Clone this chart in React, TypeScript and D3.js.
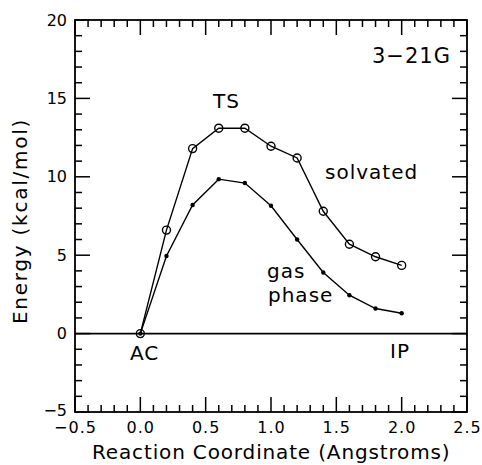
import React, { useEffect, useRef } from 'react';
import * as d3 from 'd3';

const coords = [0, 0.2, 0.4, 0.6, 0.8, 1.0, 1.2, 1.4, 1.6, 1.8, 2.0];
const solvated = [0, 6.6, 11.8, 13.1, 13.1, 11.95, 11.2, 7.8, 5.7, 4.9, 4.35];
const gasPhase = [0, 4.95, 8.2, 9.85, 9.6, 8.15, 6.0, 3.9, 2.45, 1.6, 1.3];
const xTicks = [-0.5, 0.0, 0.5, 1.0, 1.5, 2.0, 2.5];
const yTicks = [-5, 0, 5, 10, 15, 20];

const App = () => {
  const ref = useRef<SVGSVGElement>(null);

  useEffect(() => {
    const W = 482, H = 465;
    const margin = { top: 20, right: 15, bottom: 53, left: 75 };
    const width = W - margin.left - margin.right;
    const height = H - margin.top - margin.bottom;

    const root = d3.select(ref.current);
    root.selectAll('*').remove();
    const svg = root.append('g').attr('transform', `translate(${margin.left},${margin.top})`);

    const x = d3.scaleLinear().domain([-0.5, 2.5]).range([0, width]);
    const y = d3.scaleLinear().domain([-5, 20]).range([height, 0]);

    const font = 'DejaVu Sans, sans-serif';

    // frame
    svg.append('rect').attr('width', width).attr('height', height)
      .attr('fill', 'none').attr('stroke', '#000').attr('stroke-width', 1.8);

    // ticks on all four sides, pointing inward
    const xMinor = d3.range(-5, 26).map(d => d / 10);
    const yMinor = d3.range(-5, 21);
    const ticks = svg.append('g').attr('stroke', '#000').attr('stroke-width', 1.5);
    xMinor.forEach(v => {
      const major = Math.abs(v * 2 - Math.round(v * 2)) < 1e-6;
      const len = major ? 15 : 7;
      ticks.append('line').attr('x1', x(v)).attr('x2', x(v)).attr('y1', height).attr('y2', height - len);
      ticks.append('line').attr('x1', x(v)).attr('x2', x(v)).attr('y1', 0).attr('y2', len);
    });
    yMinor.forEach(v => {
      const major = v % 5 === 0;
      const len = major ? 15 : 7;
      ticks.append('line').attr('x1', 0).attr('x2', len).attr('y1', y(v)).attr('y2', y(v));
      ticks.append('line').attr('x1', width).attr('x2', width - len).attr('y1', y(v)).attr('y2', y(v));
    });

    // tick labels
    svg.selectAll('.xl').data(xTicks).join('text')
      .attr('x', d => x(d) + 0.5).attr('y', height + 20.5)
      .attr('text-anchor', 'middle').attr('font-family', font).attr('font-size', 16)
      .attr('letter-spacing', 1)
      .text(d => d3.format('.1f')(d).replace('-', '\u2212'));
    svg.selectAll('.yl').data(yTicks).join('text')
      .attr('x', -8).attr('y', d => y(d) + (d === -5 ? 3.5 : 5.5))
      .attr('text-anchor', 'end').attr('font-family', font).attr('font-size', 16)
      .text(d => String(d).replace('-', '\u2212'));

    // zero line
    svg.append('line').attr('x1', 0).attr('x2', width).attr('y1', y(0)).attr('y2', y(0))
      .attr('stroke', '#000').attr('stroke-width', 1.6);

    const line = d3.line<number>().x((d, i) => x(coords[i])).y(d => y(d));

    svg.append('path').datum(gasPhase).attr('d', line)
      .attr('fill', 'none').attr('stroke', '#000').attr('stroke-width', 1.4);
    svg.selectAll('.gp').data(gasPhase).join('circle')
      .attr('cx', (d, i) => x(coords[i])).attr('cy', d => y(d)).attr('r', 2.2).attr('fill', '#000');

    svg.append('path').datum(solvated).attr('d', line)
      .attr('fill', 'none').attr('stroke', '#000').attr('stroke-width', 1.4);
    svg.selectAll('.sv').data(solvated).join('circle')
      .attr('cx', (d, i) => x(coords[i])).attr('cy', d => y(d)).attr('r', 4)
      .attr('fill', 'none').attr('stroke', '#000').attr('stroke-width', 1.4);

    // annotations (absolute page positions)
    const ann = (t: string, ax: number, ay: number, size = 20) =>
      root.append('text').attr('x', ax).attr('y', ay)
        .attr('font-family', font).attr('font-size', size).attr('letter-spacing', 1).text(t);
    ann('3\u221221G', 372, 63, 21);
    ann('TS', 213, 108);
    ann('solvated', 325, 179);
    ann('gas', 267, 278);
    ann('phase', 268, 302);
    ann('AC', 130, 360);
    ann('IP', 390, 358);

    // axis titles
    root.append('text').attr('x', 92).attr('y', 459)
      .attr('font-family', font).attr('font-size', 20)
      .attr('letter-spacing', 0.85).text('Reaction Coordinate (Angstroms)');
    root.append('text').attr('transform', `translate(27,${221}) rotate(-90)`)
      .attr('text-anchor', 'middle').attr('font-family', font).attr('font-size', 20)
      .attr('letter-spacing', 1.75).text('Energy (kcal/mol)');
  }, []);

  return <svg ref={ref} width={482} height={465} style={{ position: 'absolute', left: 0, top: 0, background: '#fff' }} />;
};

export default App;
